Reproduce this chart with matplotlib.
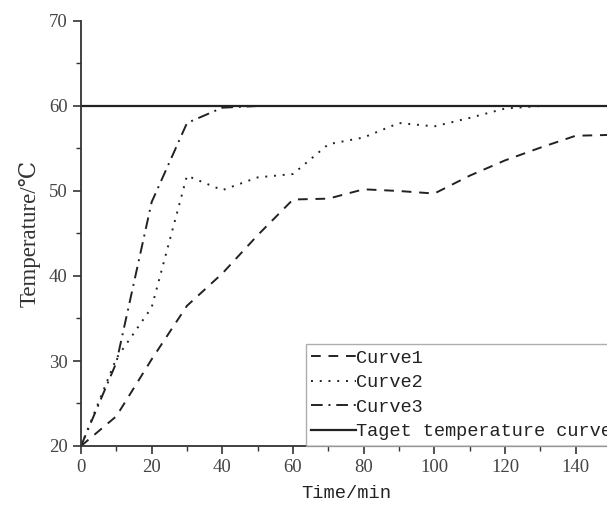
import numpy as np
import matplotlib
matplotlib.use("Agg")
import matplotlib.pyplot as plt
from matplotlib.ticker import MultipleLocator

# time axis (min)
time_min = [0, 10, 20, 30, 40, 50, 60, 70, 80, 90, 100, 110, 120, 130, 140, 150]

curve1 = [20, 23.5, 30.2, 36.5, 40.3, 44.8, 49.0, 49.1, 50.2, 50.0, 49.7, 51.8, 53.6, 55.1, 56.5, 56.6]
curve2 = [20, 30.3, 36.3, 51.8, 50.1, 51.6, 52.0, 55.5, 56.3, 58.0, 57.6, 58.6, 59.7, 60.0, 60.0, 60.0]
curve3 = [20, 29.8, 48.7, 58.0, 59.8, 60.0, 60.0, 60.0, 60.0, 60.0, 60.0, 60.0, 60.0, 60.0, 60.0, 60.0]
target = [60] * len(time_min)

labels = ["Curve1", "Curve2", "Curve3", "Taget temperature curve"]

W, H = 607, 509
fig = plt.figure(figsize=(W / 100, H / 100), dpi=100)
ax = fig.add_axes([81 / W, 63 / H, 530 / W, 425 / H])

col = "#222222"
ax.plot(time_min, curve1, ls=(0, (5, 4)), color=col, lw=1.4, label=labels[0])
ax.plot(time_min, curve2, ls=(0, (1, 3.5)), color=col, lw=1.4, label=labels[1])
ax.plot(time_min, curve3, ls=(0, (6, 3, 1, 3)), color=col, lw=1.4, label=labels[2])
ax.plot(time_min, target, ls="-", color=col, lw=1.6, label=labels[3])

ax.set_xlim(0, 150)
ax.set_ylim(20, 70)
ax.xaxis.set_major_locator(MultipleLocator(20))
ax.xaxis.set_minor_locator(MultipleLocator(10))
ax.yaxis.set_major_locator(MultipleLocator(10))
ax.yaxis.set_minor_locator(MultipleLocator(5))
ax.set_xticks(np.arange(0, 141, 20))

for s in ["top", "right"]:
    ax.spines[s].set_visible(False)
for s in ["left", "bottom"]:
    ax.spines[s].set_linewidth(1.3)
    ax.spines[s].set_color("#333333")

ax.tick_params(which="major", direction="out", length=6, width=1.2, colors="#333333",
               labelsize=13.5, labelcolor="#444444")
ax.tick_params(which="minor", direction="out", length=3.5, width=1.0, colors="#333333")
for t in ax.get_xticklabels() + ax.get_yticklabels():
    t.set_fontfamily("Liberation Serif")

ax.set_xlabel("Time/min", fontsize=13.5, family=["Liberation Mono", "DejaVu Sans"],
              color="#222222", labelpad=6)
ax.set_ylabel("Temperature/℃", fontsize=16.5, family=["Liberation Serif", "DejaVu Serif"],
              color="#333333", labelpad=6)

leg = ax.legend(loc="lower left", bbox_to_anchor=(305.5 / W, 63 / H),
                bbox_transform=fig.transFigure, frameon=True, fancybox=False,
                handlelength=2.4, handletextpad=0.0, labelspacing=0.4,
                borderpad=0.3, borderaxespad=0,
                prop={"family": "Liberation Mono", "size": 13.4})
leg.get_frame().set_edgecolor("#999999")
leg.get_frame().set_linewidth(1.0)
for t in leg.get_texts():
    t.set_color("#222222")

fig.savefig("out.png", dpi=100)
